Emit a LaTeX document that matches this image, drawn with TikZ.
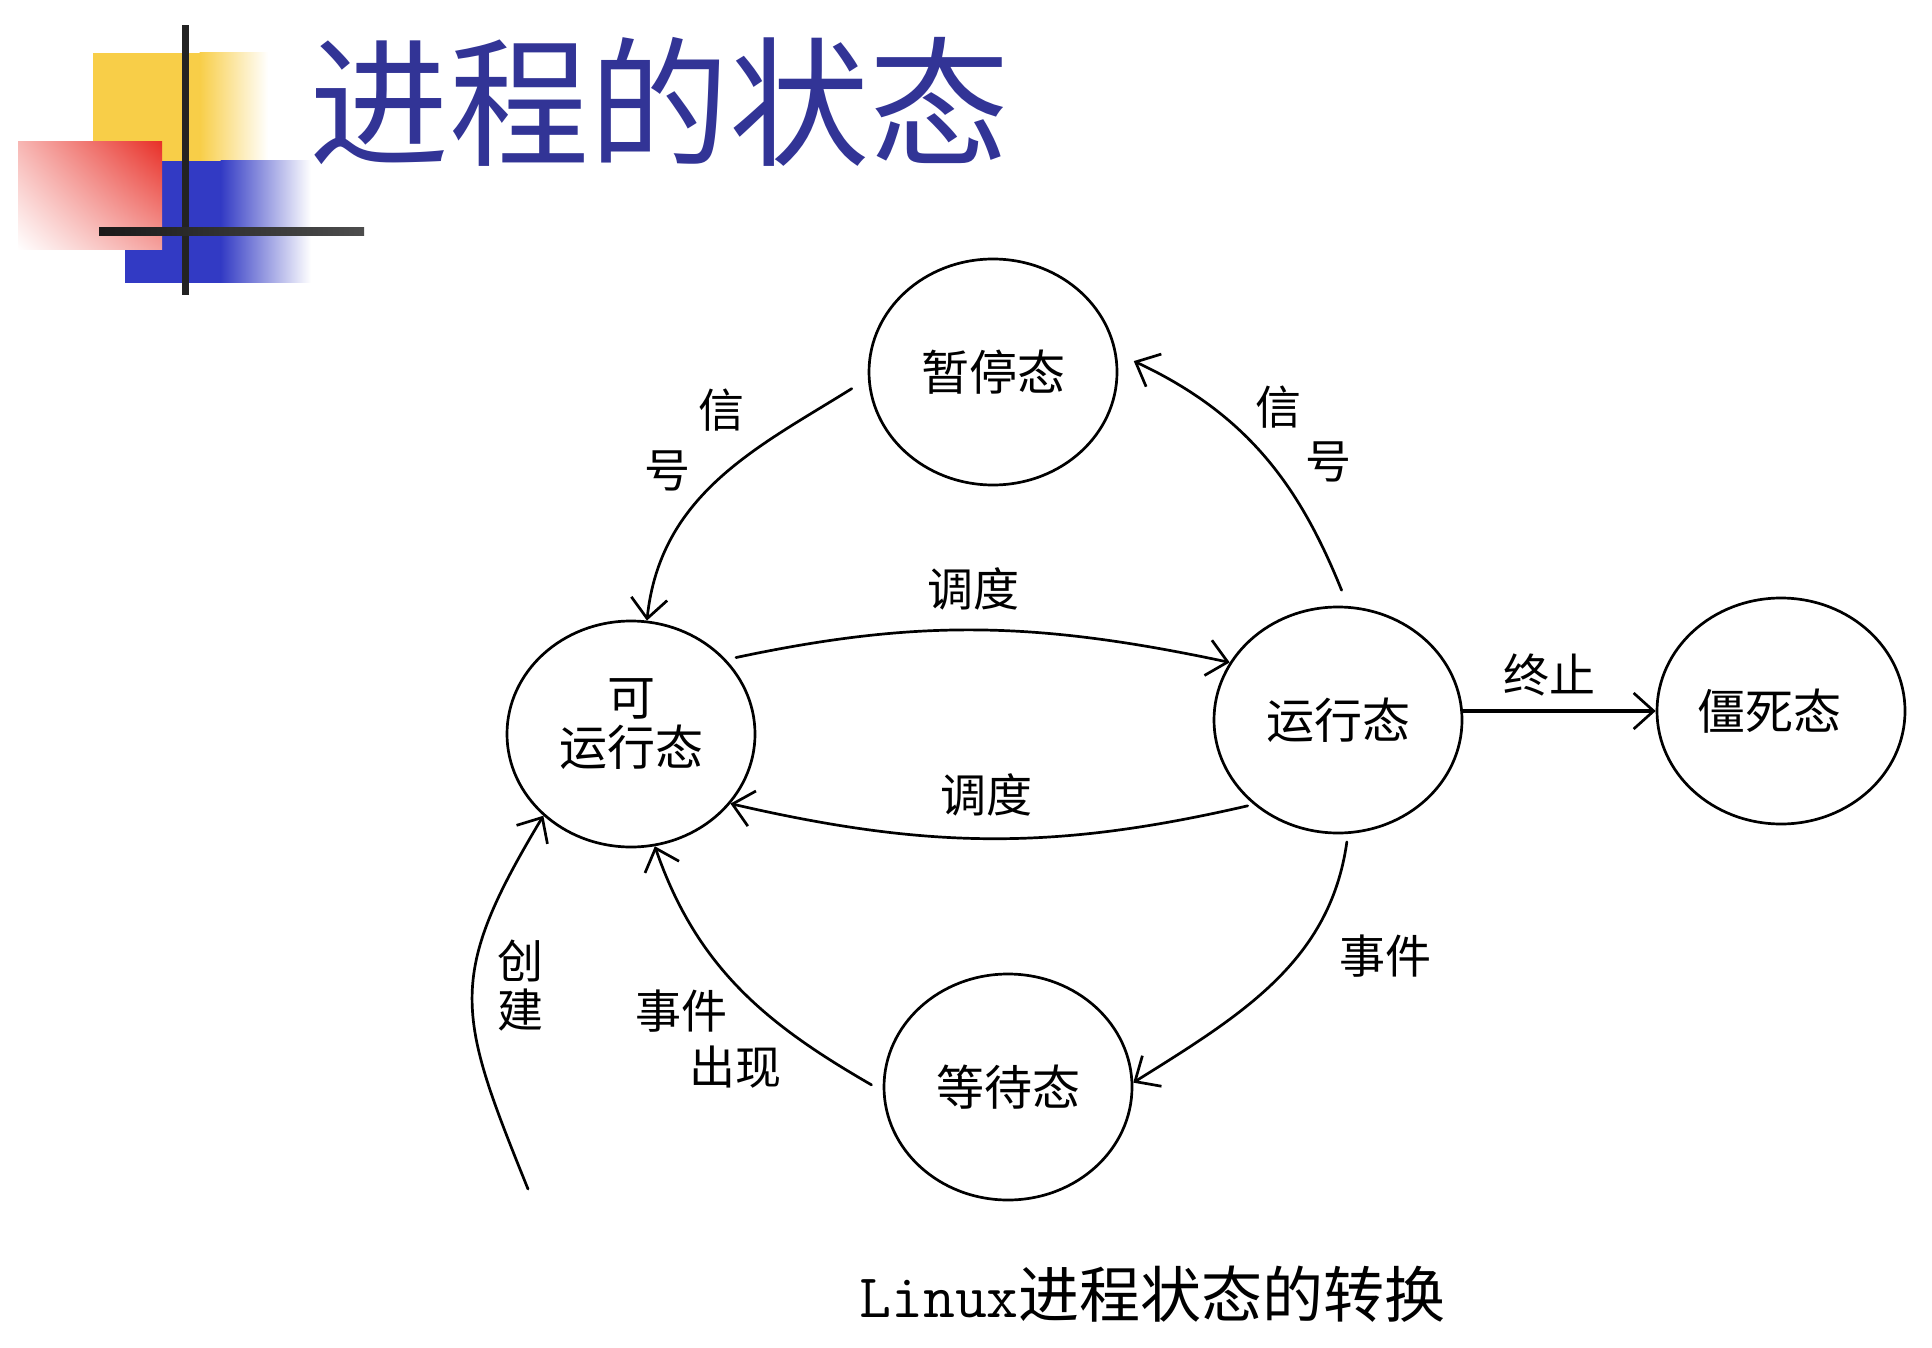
\documentclass[tikz,border=0pt]{standalone}
\usepackage{fontspec}
\setmainfont{Noto Sans CJK SC}
\usetikzlibrary{arrows.meta,shapes.geometric,calc,shadings}
\definecolor{titleblue}{RGB}{50,52,150}
\definecolor{logoyellow}{RGB}{248,206,72}
\definecolor{logoblue}{RGB}{50,58,196}
\definecolor{logored}{RGB}{232,48,40}
\definecolor{linegray}{RGB}{35,35,35}
\begin{document}
\begin{tikzpicture}[x=1pt,y=-1pt,
  state/.style={draw, ellipse, line width=2.7pt, minimum width=248pt, minimum height=226pt,
    inner sep=0pt, font=\fontsize{48}{50}\selectfont, align=center},
  lbl/.style={font=\fontsize{46}{50}\selectfont, inner sep=0pt},
  conn/.style={line width=2.7pt, line cap=round,
    -{Straight Barb[length=20pt,width=36pt,line width=2.7pt]}},
]
\useasboundingbox (0,0) rectangle (1932,1348);
\fill[white] (0,0) rectangle (1932,1348);

% logo
\fill[logoyellow] (93,53) rectangle (200,161);
\shade[left color=logoyellow, right color=white] (199.5,53) rectangle (268,161);
\fill[logoblue] (125,161) rectangle (221,283);
\shade[left color=logoblue, right color=white] (220.5,161) rectangle (311,283);
\shade[upper right=logored, upper left=logored!35, lower right=logored!45, lower left=white]
  (18,142) rectangle (162,250);
\fill[linegray] (181.5,25) rectangle (188.5,295);
\shade[left color=black!90, right color=black!70] (99,228) rectangle (364,236);

% title
\node[font=\fontsize{140}{140}\selectfont, text=titleblue, inner sep=0pt] (title) at (659,102) {进程的状态};

% states
\node[state] (pause) at (993,372) {暂停态};
\node[state, text depth=24pt] (ready) at (631,734) {可\\运行态};
\node[state] (run) at (1338,720) {运行态};
\node[state] (dead) at (1781,711) {僵死态\hspace*{24pt}};
\node[state] (wait) at (1008,1087) {等待态};

% connectors
\draw[conn, shorten <=19pt] (pause.183) to[out=212,in=84] (ready.82);
\draw[conn, shorten <=17pt] (run.85) to[out=112,in=-25] ([xshift=16pt]pause.5);
\draw[conn, shorten <=10pt] (ready.38) to[out=12,in=168] (run.152);
\draw[conn, shorten <=6pt] (run.225) to[out=193,in=347] (ready.325);
\draw[conn, line width=3.2pt] (run.east |- dead.west) -- (dead.west);
\draw[conn, shorten <=8pt] (run.275) to[out=262,in=32] (wait.2);
\draw[conn, shorten <=13pt] (wait.182) to[out=150,in=-71] (ready.282);
\coordinate (c0) at (528,1189);
\draw[conn] (c0) to[out=112,in=239,looseness=1.3] (ready.223);

% labels
\node[lbl] (l1a) at (721,410) {信};
\node[lbl] (l1b) at (667,471) {号};
\node[lbl] (l2a) at (1278,407) {信};
\node[lbl] (l2b) at (1328,462) {号};
\node[lbl] (l3) at (973,589) {调度};
\node[lbl] (l4) at (986,795) {调度};
\node[lbl] (l5) at (1549,675) {终止};
\node[lbl] (l6) at (1385,956) {事件};
\node[lbl] (l7a) at (681,1011) {事件};
\node[lbl] (l7b) at (735,1067) {出现};
\node[lbl] (l8a) at (520,961) {创};
\node[lbl] (l8b) at (520,1010) {建};

% caption
\node[anchor=west, inner sep=0pt] (cap) at (859,1294)
  {{\ttfamily\fontsize{62}{62}\selectfont Linux}{\fontsize{61}{62}\selectfont 进程状态的转换}};
\end{tikzpicture}
\end{document}
